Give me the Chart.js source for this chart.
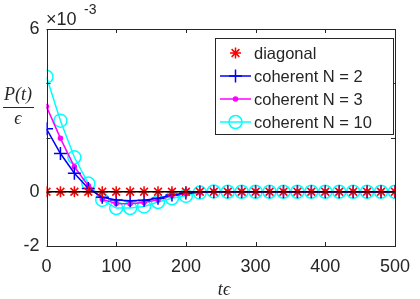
<!DOCTYPE html>
<html>
<head>
<meta charset="utf-8">
<script src="https://cdn.jsdelivr.net/npm/chart.js@4"></script>
<style>
  html, body { margin: 0; padding: 0; background: #fff; }
  #wrap { width: 420px; height: 299px; }
</style>
</head>
<body>
<div id="wrap"><canvas id="plot" width="420" height="299"></canvas></div>
<script>
// time axis (t * epsilon)
const tVals = [0, 20, 40, 60, 80, 100, 120, 140, 160, 180, 200, 220, 240, 260,
               280, 300, 320, 340, 360, 380, 400, 420, 440, 460, 480, 500];
// P(t)/eps in units of 1e-3
const diagonal = [0, 0, 0, 0, 0, 0, 0, 0, 0, 0, 0, 0, 0, 0, 0, 0, 0, 0, 0, 0, 0, 0, 0, 0, 0, 0];
const coherent2 = [2.32, 1.41, 0.68, 0.12, -0.20, -0.30, -0.33, -0.31, -0.24, -0.12, -0.05, -0.01, 0,
                   0, 0, 0, 0, 0, 0, 0, 0, 0, 0, 0, 0, 0];
const coherent3 = [3.14, 1.97, 0.92, 0.22, -0.28, -0.43, -0.44, -0.40, -0.30, -0.15, -0.07, -0.02, 0,
                   0, 0, 0, 0, 0, 0, 0, 0, 0, 0, 0, 0, 0];
const coherent10 = [4.24, 2.62, 1.27, 0.30, -0.30, -0.60, -0.60, -0.54, -0.38, -0.24, -0.15, -0.03, 0.01,
                    0, 0, 0, 0, 0, 0, 0, 0, 0, 0, 0, 0, 0];
const xTicks = [0, 100, 200, 300, 400, 500];
const yTicks = [-2, 0, 2, 4, 6];
const yTickLabels = ['-2', '0', '', '', '6'];

const legendNames = ['diagonal', 'coherent N = 2', 'coherent N = 3', 'coherent N = 10'];

const axisColor = '#262626';
const font = '"Liberation Sans", Arial, Helvetica, sans-serif';

function pts(ys) {
    return tVals.map((t, i) => ({ x: t, y: ys[i] }));
}

// box, inside ticks, labels and legend
const decorations = {
    id: 'decorations',
    afterDatasetsDraw(chart) {
        const ctx = chart.ctx;
        const a = chart.chartArea;
        const xs = chart.scales.x, ys = chart.scales.y;
        ctx.save();
        ctx.strokeStyle = axisColor;
        ctx.lineWidth = 1;
        ctx.strokeRect(Math.round(a.left) + 0.5, Math.round(a.top) + 0.5,
                       Math.round(a.right - a.left), Math.round(a.bottom - a.top));
        const tl = 4;
        ctx.beginPath();
        xTicks.forEach(v => {
            const px = Math.round(xs.getPixelForValue(v)) + 0.5;
            ctx.moveTo(px, a.bottom); ctx.lineTo(px, a.bottom - tl);
            ctx.moveTo(px, a.top); ctx.lineTo(px, a.top + tl);
        });
        yTicks.forEach(v => {
            const py = Math.round(ys.getPixelForValue(v)) + 0.5;
            ctx.moveTo(a.left, py); ctx.lineTo(a.left + tl, py);
            ctx.moveTo(a.right, py); ctx.lineTo(a.right - tl, py);
        });
        ctx.stroke();

        // exponent
        ctx.fillStyle = axisColor;
        ctx.textBaseline = 'alphabetic';
        ctx.textAlign = 'left';
        ctx.font = '18px ' + font;
        ctx.fillText('\u00d710', 46, 25);
        ctx.font = '14px ' + font;
        ctx.fillText('-3', 84, 14);

        // y label as fraction
        ctx.font = 'italic 18px "Liberation Serif", "DejaVu Serif", serif';
        ctx.textAlign = 'center';
        ctx.fillText('P(t)', 18, 100);
        ctx.fillRect(3, 107, 31, 1);
        ctx.fillText('\u03f5', 18, 124);

        // x label
        ctx.fillText('t\u03f5', 224, 295);

        // legend
        const lx = 215, ly = 38, lw = 178, lh = 96;
        ctx.fillStyle = '#fff';
        ctx.fillRect(lx, ly, lw, lh);
        ctx.strokeStyle = axisColor;
        ctx.lineWidth = 1;
        ctx.strokeRect(lx + 0.5, ly + 0.5, lw, lh);
        const rows = [53, 76, 99, 122];
        const dsIdx = [1, 2, 3, 4];
        ctx.font = '16.5px ' + font;
        ctx.textAlign = 'left';
        ctx.textBaseline = 'middle';
        rows.forEach((ry, i) => {
            const ds = chart.data.datasets[dsIdx[i]];
            if (ds.showLine !== false) {
                ctx.strokeStyle = ds.borderColor;
                ctx.lineWidth = ds.borderWidth;
                ctx.beginPath();
                ctx.moveTo(220, ry); ctx.lineTo(251, ry);
                ctx.stroke();
            }
            ctx.strokeStyle = ds.borderColor;
            ctx.fillStyle = ds.backgroundColor;
            ctx.lineWidth = ds.borderWidth;
            Chart.helpers.drawPoint(ctx, {
                pointStyle: ds.pointStyle,
                radius: ds.pointRadius,
                borderWidth: ds.borderWidth,
                rotation: 0
            }, 235.5, ry);
            ctx.fillStyle = axisColor;
            ctx.fillText(legendNames[i], 254, ry + 1);
        });
        ctx.restore();
    }
};

new Chart(document.getElementById('plot'), {
    type: 'line',
    data: {
        datasets: [
            {
                label: 'zero',
                data: [{ x: 0, y: 0 }, { x: 500, y: 0 }],
                borderColor: '#000',
                borderWidth: 1.5,
                pointRadius: 0
            },
            {
                label: legendNames[0],
                data: pts(diagonal),
                showLine: false,
                borderColor: '#ff0000',
                backgroundColor: '#ff0000',
                pointStyle: 'star',
                pointRadius: 5.5,
                borderWidth: 1.5
            },
            {
                label: legendNames[1],
                data: pts(coherent2),
                borderColor: '#0000ff',
                backgroundColor: '#0000ff',
                pointStyle: 'cross',
                pointRadius: 6.5,
                borderWidth: 1.5
            },
            {
                label: legendNames[2],
                data: pts(coherent3),
                borderColor: '#ff00ff',
                backgroundColor: '#ff00ff',
                pointStyle: 'circle',
                pointRadius: 2,
                borderWidth: 1.5
            },
            {
                label: legendNames[3],
                data: pts(coherent10),
                borderColor: '#00ffff',
                backgroundColor: 'rgba(255,255,255,0)',
                pointStyle: 'circle',
                pointRadius: 6.5,
                borderWidth: 1.5
            }
        ]
    },
    options: {
        responsive: false,
        animation: false,
        layout: { padding: { left: 0, right: 17, top: 29, bottom: 0 } },
        plugins: { legend: { display: false }, tooltip: { enabled: false } },
        elements: { line: { tension: 0 } },
        scales: {
            x: {
                type: 'linear',
                min: 0, max: 500,
                afterBuildTicks: s => { s.ticks = xTicks.map(v => ({ value: v })); },
                grid: { display: false, drawTicks: false },
                border: { display: false },
                ticks: { color: axisColor, font: { family: font, size: 18 }, padding: 10, maxRotation: 0 },
                afterFit: s => { s.height = 53; }
            },
            y: {
                min: -2, max: 6,
                afterBuildTicks: s => { s.ticks = yTicks.map(v => ({ value: v })); },
                grid: { display: false, drawTicks: false },
                border: { display: false },
                ticks: {
                    color: axisColor, font: { family: font, size: 18 }, padding: 7,
                    callback: (v) => yTickLabels[yTicks.indexOf(v)]
                },
                afterFit: s => { s.width = 46.5; }
            }
        }
    },
    plugins: [decorations]
});
</script>
</body>
</html>
